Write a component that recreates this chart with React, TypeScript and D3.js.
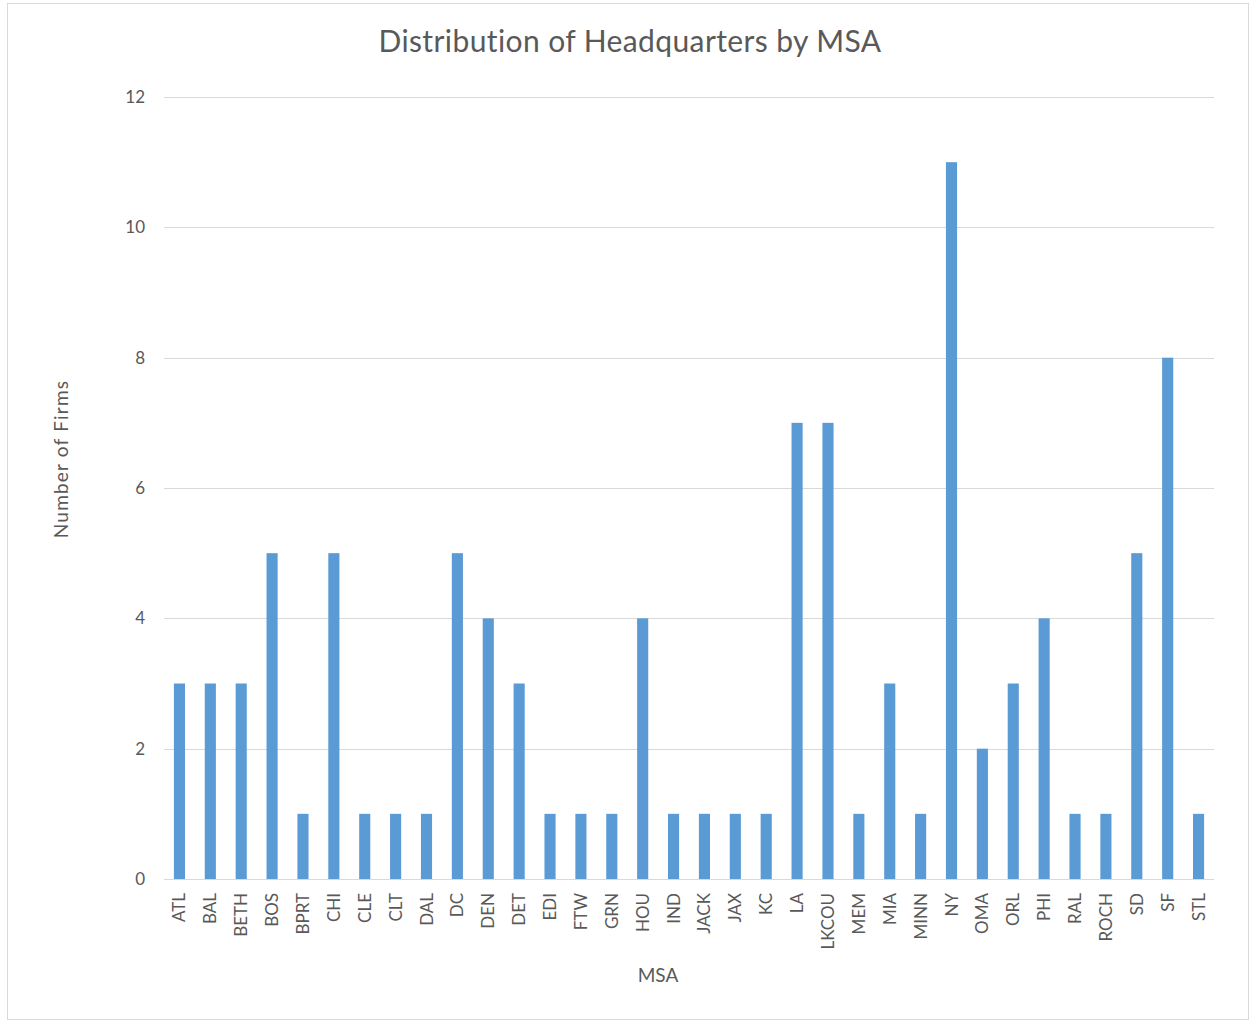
import React, { useEffect, useRef } from "react";
import * as d3 from "d3";

const categories = [
  "ATL", "BAL", "BETH", "BOS", "BPRT", "CHI", "CLE", "CLT", "DAL", "DC",
  "DEN", "DET", "EDI", "FTW", "GRN", "HOU", "IND", "JACK", "JAX", "KC",
  "LA", "LKCOU", "MEM", "MIA", "MINN", "NY", "OMA", "ORL", "PHI", "RAL",
  "ROCH", "SD", "SF", "STL",
];
const firms = [
  3, 3, 3, 5, 1, 5, 1, 1, 1, 5,
  4, 3, 1, 1, 1, 4, 1, 1, 1, 1,
  7, 7, 1, 3, 1, 11, 2, 3, 4, 1,
  1, 5, 8, 1,
];
const yTicks = [0, 2, 4, 6, 8, 10, 12];

const W = 1252;
const H = 1023;
const FONT = "Lato, 'Open Sans', sans-serif";
const TEXT = "#595959";

export default function App() {
  const svgRef = useRef<SVGSVGElement | null>(null);

  useEffect(() => {
    if (!svgRef.current) return;
    const svg = d3.select(svgRef.current);
    svg.selectAll("*").remove();

    const plot = { left: 164, right: 1214, top: 97, bottom: 879 };

    const x = d3
      .scaleBand<string>()
      .domain(categories)
      .range([plot.left, plot.right])
      .paddingInner(0.64)
      .paddingOuter(0.32);

    const y = d3.scaleLinear().domain([0, 12]).range([plot.bottom, plot.top]);

    // outer chart border
    svg.append("rect")
      .attr("x", 7.5).attr("y", 3.5)
      .attr("width", W - 11).attr("height", 1016)
      .attr("fill", "#fff")
      .attr("stroke", "#d9d9d9");

    // gridlines
    svg.append("g")
      .selectAll("line")
      .data(yTicks)
      .join("line")
      .attr("x1", plot.left).attr("x2", plot.right)
      .attr("y1", (d) => Math.round(y(d)) + 0.5)
      .attr("y2", (d) => Math.round(y(d)) + 0.5)
      .attr("stroke", "#d9d9d9")
      .attr("stroke-width", 1.2);

    // y tick labels
    svg.append("g")
      .selectAll("text")
      .data(yTicks)
      .join("text")
      .attr("x", 145)
      .attr("y", (d) => y(d) + 6)
      .attr("text-anchor", "end")
      .attr("font-family", FONT)
      .attr("font-size", 17)
      .attr("fill", TEXT)
      .text((d) => d);

    // bars
    svg.append("g")
      .selectAll("rect")
      .data(firms)
      .join("rect")
      .attr("x", (_, i) => x(categories[i])!)
      .attr("y", (d) => y(d))
      .attr("width", x.bandwidth())
      .attr("height", (d) => y(0) - y(d))
      .attr("fill", "#5b9bd5");

    // x labels
    svg.append("g")
      .selectAll("text")
      .data(categories)
      .join("text")
      .attr("transform", (d) => `translate(${x(d)! + x.bandwidth() / 2 + 6},893) rotate(-90)`)
      .attr("text-anchor", "end")
      .attr("font-family", FONT)
      .attr("font-size", 17)
      .attr("fill", TEXT)
      .text((d) => d);

    // title
    svg.append("text")
      .attr("x", 630).attr("y", 52)
      .attr("text-anchor", "middle")
      .attr("font-family", FONT)
      .attr("font-size", 30)
      .attr("letter-spacing", 0.4)
      .attr("fill", TEXT)
      .text("Distribution of Headquarters by MSA");

    // axis titles
    svg.append("text")
      .attr("x", 658).attr("y", 982)
      .attr("text-anchor", "middle")
      .attr("font-family", FONT)
      .attr("font-size", 19)
      .attr("fill", TEXT)
      .text("MSA");

    svg.append("text")
      .attr("transform", "translate(68,459) rotate(-90)")
      .attr("text-anchor", "middle")
      .attr("font-family", FONT)
      .attr("font-size", 19)
      .attr("fill", TEXT)
      .attr("letter-spacing", 1.2)
      .text("Number  of Firms");
  }, []);

  return (
    <svg
      ref={svgRef}
      width={W}
      height={H}
      style={{ position: "absolute", left: 0, top: 0, display: "block", background: "#fff" }}
    />
  );
}
